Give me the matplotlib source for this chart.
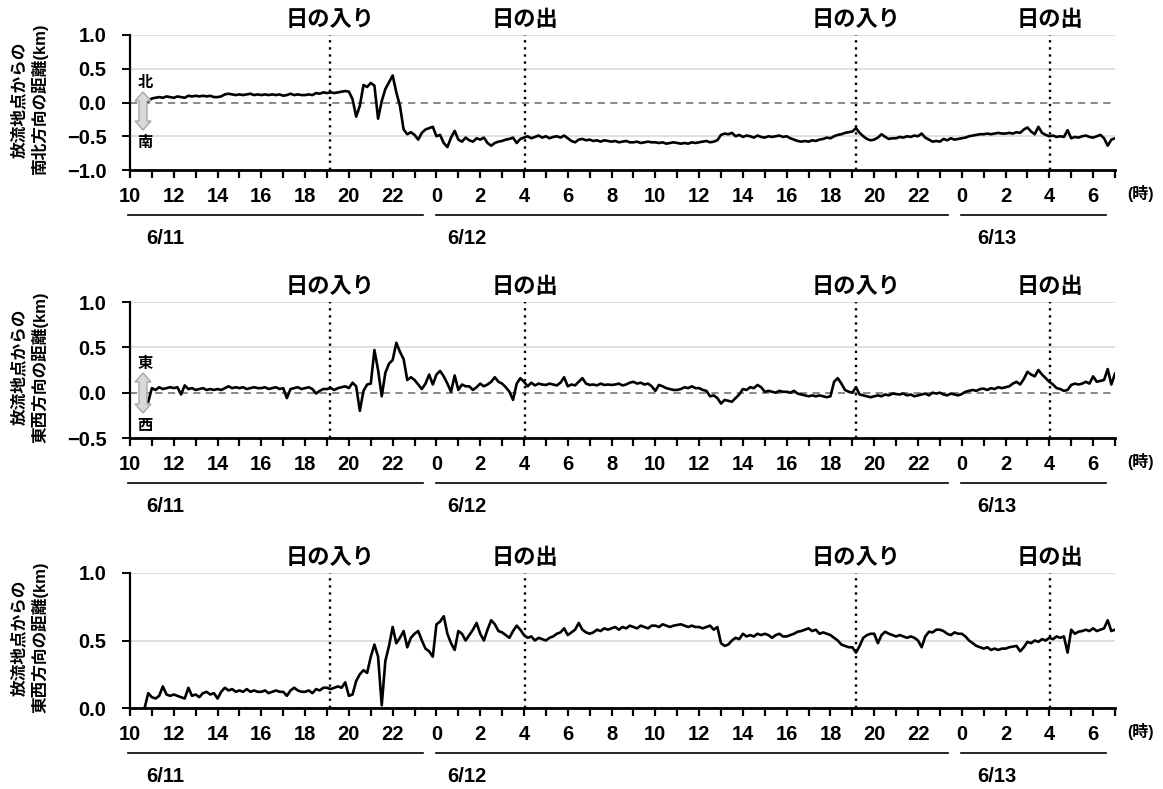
import numpy as np
import matplotlib
matplotlib.use("Agg")
import matplotlib.pyplot as plt
from matplotlib import transforms
from matplotlib.patches import Polygon
from matplotlib.lines import Line2D
from matplotlib.ticker import FixedLocator, FuncFormatter

plt.rcParams["font.family"] = ["Liberation Sans", "Noto Sans CJK JP"]
plt.rcParams["font.weight"] = "bold"

# ── data: 10-minute readings, hours counted from 6/11 0:00 (first = 10:40) ──
ns_km = [
    np.nan, 0.02,                                   # 10
    0.06, 0.07, 0.08, 0.07, 0.09, 0.08,             # 11
    0.07, 0.09, 0.08, 0.07, 0.10, 0.09,             # 12
    0.10, 0.09, 0.10, 0.09, 0.10, 0.08,             # 13
    0.08, 0.09, 0.12, 0.13, 0.12, 0.11,             # 14
    0.12, 0.11, 0.12, 0.13, 0.11, 0.12,             # 15
    0.11, 0.12, 0.11, 0.12, 0.11, 0.12,             # 16
    0.10, 0.11, 0.13, 0.11, 0.12, 0.11,             # 17
    0.11, 0.12, 0.11, 0.14, 0.13, 0.15,             # 18
    0.14, 0.15, 0.14, 0.15, 0.16, 0.17,             # 19
    0.16, 0.05, -0.21, -0.05, 0.26, 0.23,           # 20
    0.29, 0.25, -0.24, 0.02, 0.20, 0.30,            # 21
    0.40, 0.15, -0.05, -0.40, -0.47, -0.44,         # 22
    -0.48, -0.55, -0.45, -0.40, -0.38, -0.36,       # 23
    -0.50, -0.48, -0.60, -0.66, -0.52, -0.42,       # 6/12 0
    -0.55, -0.58, -0.52, -0.56, -0.58, -0.53,       # 1
    -0.55, -0.52, -0.60, -0.64, -0.60, -0.58,       # 2
    -0.57, -0.55, -0.54, -0.52, -0.60, -0.54,       # 3
    -0.52, -0.50, -0.53, -0.51, -0.49, -0.52,       # 4
    -0.50, -0.53, -0.51, -0.50, -0.52, -0.49,       # 5
    -0.53, -0.57, -0.59, -0.55, -0.54, -0.56,       # 6
    -0.55, -0.57, -0.56, -0.58, -0.56, -0.57,       # 7
    -0.58, -0.57, -0.59, -0.58, -0.57, -0.59,       # 8
    -0.59, -0.58, -0.60, -0.59, -0.58, -0.59,       # 9
    -0.59, -0.60, -0.59, -0.61, -0.60, -0.59,       # 10
    -0.60, -0.61, -0.60, -0.61, -0.59, -0.60,       # 11
    -0.59, -0.58, -0.57, -0.59, -0.58, -0.56,       # 12
    -0.48, -0.46, -0.47, -0.45, -0.50, -0.48,       # 13
    -0.51, -0.49, -0.50, -0.52, -0.49, -0.51,       # 14
    -0.52, -0.50, -0.51, -0.50, -0.49, -0.51,       # 15
    -0.50, -0.53, -0.55, -0.57, -0.58, -0.57,       # 16
    -0.58, -0.56, -0.57, -0.55, -0.54, -0.52,       # 17
    -0.53, -0.50, -0.48, -0.47, -0.45, -0.44,       # 18
    -0.43, -0.38, -0.45, -0.50, -0.54, -0.56,       # 19
    -0.55, -0.52, -0.47, -0.51, -0.54, -0.53,       # 20
    -0.53, -0.51, -0.52, -0.50, -0.51, -0.49,       # 21
    -0.50, -0.46, -0.52, -0.55, -0.58, -0.57,       # 22
    -0.58, -0.54, -0.56, -0.53, -0.55, -0.54,       # 23
    -0.53, -0.52, -0.50, -0.49, -0.48, -0.47,       # 6/13 0
    -0.47, -0.46, -0.47, -0.46, -0.45, -0.46,       # 1
    -0.46, -0.45, -0.46, -0.44, -0.45, -0.40,       # 2
    -0.37, -0.43, -0.47, -0.36, -0.45, -0.48,       # 3
    -0.50, -0.49, -0.51, -0.50, -0.51, -0.41,       # 4
    -0.53, -0.51, -0.52, -0.50, -0.49, -0.51,       # 5
    -0.52, -0.50, -0.48, -0.53, -0.64, -0.55,       # 6
    -0.53,                                          # 7
]

ew_km = [
    np.nan, -0.10,                                  # 10
    0.05, 0.03, 0.06, 0.04, 0.05, 0.06,             # 11
    0.05, 0.06, -0.02, 0.08, 0.04, 0.05,            # 12
    0.03, 0.04, 0.05, 0.03, 0.04, 0.03,             # 13
    0.04, 0.03, 0.05, 0.07, 0.05, 0.06,             # 14
    0.05, 0.06, 0.04, 0.05, 0.06, 0.05,             # 15
    0.05, 0.06, 0.04, 0.05, 0.06, 0.04,             # 16
    0.05, -0.06, 0.04, 0.05, 0.06, 0.04,            # 17
    0.05, 0.06, 0.04, -0.01, 0.02, 0.04,            # 18
    0.04, 0.05, 0.03, 0.05, 0.06, 0.07,             # 19
    0.05, 0.11, 0.07, -0.20, 0.02, 0.09,            # 20
    0.10, 0.47, 0.25, -0.04, 0.22, 0.32,            # 21
    0.36, 0.55, 0.45, 0.37, 0.14, 0.17,             # 22
    0.14, 0.09, 0.04, 0.10, 0.20, 0.09,             # 23
    0.20, 0.24, 0.18, 0.10, 0.01, 0.19,             # 6/12 0
    0.03, 0.09, 0.07, 0.07, 0.03, 0.06,             # 1
    0.10, 0.07, 0.09, 0.12, 0.17, 0.12,             # 2
    0.10, 0.06, 0.01, -0.08, 0.10, 0.16,            # 3
    0.12, 0.07, 0.11, 0.08, 0.10, 0.09,             # 4
    0.085, 0.10, 0.09, 0.08, 0.11, 0.17,            # 5
    0.07, 0.09, 0.08, 0.12, 0.16, 0.10,             # 6
    0.085, 0.09, 0.08, 0.10, 0.085, 0.09,           # 7
    0.085, 0.09, 0.10, 0.08, 0.09, 0.11,            # 8
    0.12, 0.10, 0.11, 0.09, 0.10, 0.07,             # 9
    0.02, 0.085, 0.07, 0.05, 0.04, 0.03,            # 10
    0.03, 0.04, 0.06, 0.05, 0.07, 0.05,             # 11
    0.05, 0.03, 0.02, -0.04, -0.03, -0.06,          # 12
    -0.12, -0.08, -0.09, -0.10, -0.06, -0.02,       # 13
    0.04, 0.03, 0.06, 0.05, 0.085, 0.06,            # 14
    0.01, 0.02, 0.01, 0.00, 0.02, 0.01,             # 15
    0.01, 0.00, 0.02, -0.01, -0.02, -0.03,          # 16
    -0.04, -0.03, -0.04, -0.03, -0.04, -0.05,       # 17
    -0.04, 0.12, 0.16, 0.10, 0.03, 0.01,            # 18
    0.00, 0.06, -0.02, -0.03, -0.04, -0.05,         # 19
    -0.04, -0.03, -0.04, -0.02, -0.03, -0.01,       # 20
    -0.015, -0.02, -0.01, -0.03, -0.02, -0.04,      # 21
    -0.03, -0.02, -0.01, -0.03, 0.00, -0.01,        # 22
    0.00, -0.02, -0.03, -0.01, -0.02, -0.03,        # 23
    -0.015, 0.01, 0.02, 0.03, 0.02, 0.04,           # 6/13 0
    0.045, 0.03, 0.05, 0.04, 0.06, 0.05,            # 1
    0.06, 0.07, 0.10, 0.12, 0.09, 0.15,             # 2
    0.23, 0.20, 0.18, 0.25, 0.20, 0.16,             # 3
    0.12, 0.09, 0.05, 0.04, 0.02, 0.03,             # 4
    0.085, 0.10, 0.09, 0.10, 0.12, 0.10,            # 5
    0.18, 0.12, 0.13, 0.14, 0.26, 0.09,             # 6
    0.21,                                           # 7
]

dist_km = [
    0.00, 0.11,                                     # 10
    0.08, 0.07, 0.09, 0.16, 0.10, 0.09,             # 11
    0.10, 0.09, 0.08, 0.07, 0.15, 0.09,             # 12
    0.10, 0.08, 0.11, 0.12, 0.10, 0.11,             # 13
    0.07, 0.12, 0.15, 0.13, 0.14, 0.12,             # 14
    0.13, 0.12, 0.14, 0.12, 0.13, 0.12,             # 15
    0.12, 0.13, 0.11, 0.12, 0.13, 0.12,             # 16
    0.12, 0.09, 0.13, 0.15, 0.13, 0.12,             # 17
    0.12, 0.13, 0.11, 0.14, 0.13, 0.15,             # 18
    0.15, 0.14, 0.15, 0.16, 0.15, 0.19,             # 19
    0.09, 0.10, 0.20, 0.25, 0.28, 0.26,             # 20
    0.38, 0.47, 0.38, 0.02, 0.35, 0.46,             # 21
    0.60, 0.48, 0.52, 0.57, 0.45, 0.52,             # 22
    0.55, 0.57, 0.50, 0.44, 0.42, 0.38,             # 23
    0.62, 0.64, 0.68, 0.55, 0.48, 0.43,             # 6/12 0
    0.57, 0.55, 0.50, 0.54, 0.58, 0.63,             # 1
    0.55, 0.50, 0.58, 0.65, 0.62, 0.57,             # 2
    0.56, 0.54, 0.52, 0.57, 0.61, 0.58,             # 3
    0.54, 0.52, 0.53, 0.50, 0.52, 0.51,             # 4
    0.50, 0.52, 0.53, 0.55, 0.56, 0.59,             # 5
    0.54, 0.56, 0.58, 0.63, 0.58, 0.56,             # 6
    0.55, 0.56, 0.58, 0.57, 0.59, 0.58,             # 7
    0.59, 0.60, 0.58, 0.60, 0.59, 0.61,             # 8
    0.60, 0.59, 0.61, 0.60, 0.59, 0.61,             # 9
    0.61, 0.60, 0.62, 0.61, 0.60, 0.61,             # 10
    0.615, 0.62, 0.61, 0.60, 0.61, 0.60,            # 11
    0.60, 0.59, 0.60, 0.61, 0.58, 0.60,             # 12
    0.48, 0.46, 0.47, 0.50, 0.52, 0.51,             # 13
    0.55, 0.53, 0.54, 0.53, 0.55, 0.54,             # 14
    0.55, 0.54, 0.52, 0.54, 0.55, 0.53,             # 15
    0.53, 0.54, 0.55, 0.565, 0.57, 0.58,            # 16
    0.59, 0.57, 0.58, 0.55, 0.56, 0.55,             # 17
    0.54, 0.52, 0.50, 0.47, 0.46, 0.45,             # 18
    0.45, 0.41, 0.46, 0.52, 0.54, 0.55,             # 19
    0.55, 0.48, 0.54, 0.565, 0.55, 0.54,            # 20
    0.53, 0.54, 0.53, 0.52, 0.53, 0.52,             # 21
    0.50, 0.45, 0.53, 0.565, 0.56, 0.58,            # 22
    0.58, 0.57, 0.55, 0.54, 0.56, 0.55,             # 23
    0.55, 0.53, 0.50, 0.48, 0.46, 0.45,             # 6/13 0
    0.44, 0.45, 0.43, 0.44, 0.43, 0.44,             # 1
    0.44, 0.45, 0.455, 0.46, 0.42, 0.45,            # 2
    0.49, 0.48, 0.50, 0.49, 0.51, 0.50,             # 3
    0.52, 0.51, 0.53, 0.52, 0.53, 0.41,             # 4
    0.58, 0.55, 0.565, 0.57, 0.58, 0.57,            # 5
    0.59, 0.57, 0.58, 0.59, 0.65, 0.57,             # 6
    0.58,                                           # 7
]

t_hours = 10 + 40 / 60 + np.arange(len(ns_km)) / 6

sunset = [19.15, 43.15]
sunrise = [28.05, 52.05]
dates = ["6/11", "6/12", "6/13"]
date_spans = [(9.9, 23.4), (24.0, 47.35), (47.95, 54.6)]
date_centers = [11.6, 25.4, 49.6]
hour_ticks = np.arange(10, 56)

W, H = 1163, 789
fig = plt.figure(figsize=(W / 100, H / 100), dpi=100)


def fx(x):
    return x / W


def fy(y):
    return 1 - y / H


panels = [
    dict(y=ns_km, top=35, bot=170, ylim=(-1.0, 1.0), yticks=[-1.0, -0.5, 0.0, 0.5, 1.0],
         ylabel="放流地点からの\n南北方向の距離(km)", arrow=("北", "南", 92, 130)),
    dict(y=ew_km, top=302, bot=438, ylim=(-0.5, 1.0), yticks=[-0.5, 0.0, 0.5, 1.0],
         ylabel="放流地点からの\n東西方向の距離(km)", arrow=("東", "西", 373, 413)),
    dict(y=dist_km, top=573, bot=708, ylim=(0.0, 1.0), yticks=[0.0, 0.5, 1.0],
         ylabel="放流地点からの\n東西方向の距離(km)", arrow=None),
]

left_px, right_px = 130, 1115
minus_fmt = FuncFormatter(lambda v, p: f"{v:.1f}".replace("-", "\u2212"))

for p in panels:
    ax = fig.add_axes([fx(left_px), fy(p["bot"]), fx(right_px - left_px),
                       (p["bot"] - p["top"]) / H])
    ax.set_xlim(10, 55)
    ax.set_ylim(*p["ylim"])

    # grid and zero reference
    for v in p["yticks"]:
        if v != 0 and v != p["ylim"][0]:
            ax.axhline(v, color="#d9d9d9", lw=1.2, zorder=0)
    ax.axhline(0, color="#7f7f7f", lw=1.3, ls=(0, (4, 3)), zorder=1)

    ax.plot(t_hours, p["y"], color="black", lw=1.9, zorder=3)

    for x in sunset + sunrise:
        ax.axvline(x, color="black", lw=1.7, ls=(0, (1, 2)), zorder=2)
    tr_top = transforms.blended_transform_factory(ax.transData, ax.transAxes)
    for x in sunset:
        ax.text(x, 1.03, "日の入り", transform=tr_top, ha="center", va="bottom",
                fontsize=16, fontweight="bold")
    for x in sunrise:
        ax.text(x, 1.03, "日の出", transform=tr_top, ha="center", va="bottom",
                fontsize=16, fontweight="bold")

    for s in ["top", "right"]:
        ax.spines[s].set_visible(False)
    ax.spines["left"].set_linewidth(1.6)
    ax.spines["bottom"].set_linewidth(2.0)

    ax.xaxis.set_major_locator(FixedLocator(hour_ticks))
    ax.set_xticklabels([str(h % 24) if h % 2 == 0 else "" for h in hour_ticks],
                       fontsize=14.5, fontweight="bold")
    ax.tick_params(axis="x", direction="out", length=6, width=1.6, pad=6)
    ax.yaxis.set_major_locator(FixedLocator(p["yticks"]))
    ax.yaxis.set_major_formatter(minus_fmt)
    ax.tick_params(axis="y", direction="out", length=6, width=1.4, pad=11, labelsize=14.5)
    for lab in ax.get_yticklabels():
        lab.set_fontweight("bold")

    # date bands under the hour labels
    tr_fig = transforms.blended_transform_factory(ax.transData, fig.transFigure)
    for (a, b), c, d in zip(date_spans, date_centers, dates):
        fig.add_artist(Line2D([a, b], [fy(p["bot"] + 45)] * 2, transform=tr_fig,
                              color="black", lw=1.2))
        fig.text(c, fy(p["bot"] + 68), d, transform=tr_fig, ha="center", va="center",
                 fontsize=14.5, fontweight="bold")

    fig.text(fx(1141), fy(p["bot"] + 24), "(時)", ha="center", va="center",
             fontsize=11.5, fontweight="bold")

    fig.text(fx(30), fy((p["top"] + p["bot"]) / 2 - 3), p["ylabel"], rotation=90,
             ha="center", va="center", multialignment="center", fontsize=12,
             fontweight="bold", linespacing=1.3)

    # north/south, east/west double arrow
    if p["arrow"]:
        up, down, ytop, ybot = p["arrow"]
        cx = 143
        pts = [(cx, ytop), (cx + 8, ytop + 9), (cx + 4, ytop + 9), (cx + 4, ybot - 9),
               (cx + 8, ybot - 9), (cx, ybot), (cx - 8, ybot - 9), (cx - 4, ybot - 9),
               (cx - 4, ytop + 9), (cx - 8, ytop + 9)]
        fig.add_artist(Polygon([(fx(a), fy(b)) for a, b in pts], closed=True,
                               transform=fig.transFigure, facecolor="#d9d9d9",
                               edgecolor="#a6a6a6", lw=1.0, zorder=5))
        fig.text(fx(145), fy(ytop - 9), up, ha="center", va="center", fontsize=11,
                 fontweight="bold")
        fig.text(fx(145), fy(ybot + 13), down, ha="center", va="center", fontsize=11,
                 fontweight="bold")

fig.savefig("out.png", dpi=100, facecolor="white")
